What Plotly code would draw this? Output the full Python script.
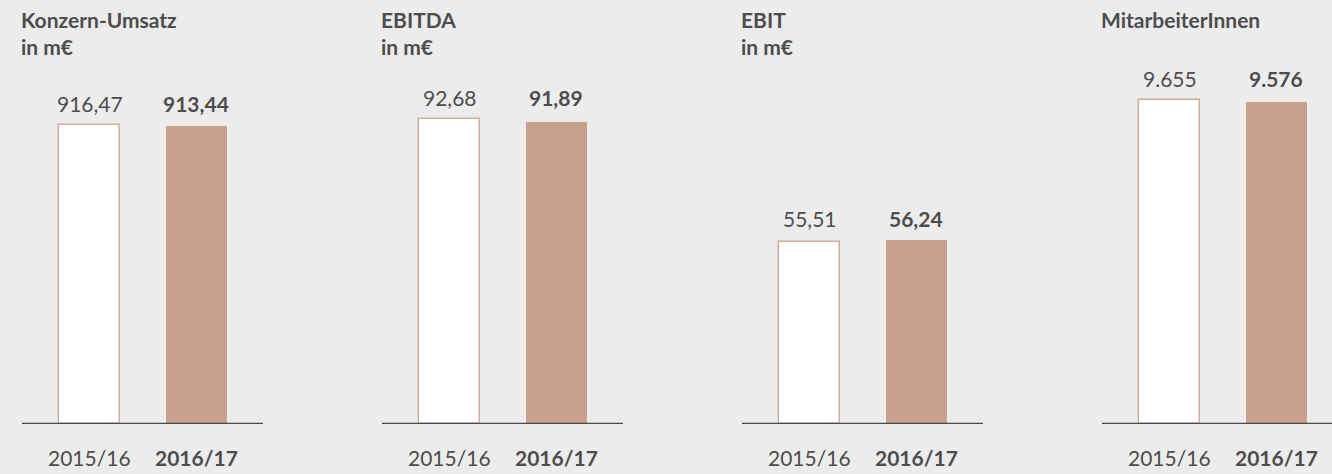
import plotly.graph_objects as go

# ---- data ----
titles = ["Konzern-Umsatz", "EBITDA", "EBIT", "MitarbeiterInnen"]
subtitles = ["in m€", "in m€", "in m€", ""]
years = ["2015/16", "2016/17"]
values_2015 = [916.47, 92.68, 55.51, 9655]
values_2016 = [913.44, 91.89, 56.24, 9576]
decimals = [2, 2, 2, 0]

# ---- style / layout config ----
W, H = 1332, 474
BG = "#ececec"
TXT = "#4d4d4d"
BROWN = "#c8a18e"
OUTLINE = "#d2ad9b"
FONT = "Lato"
FS = 21
y_max = [1299.4, 128.9, 129.4, 12627]
panel_left = [22, 382, 742, 1102]
panel_w = 241
px_per_unit = 106.5
x_left = -0.634


def fmt(v, d):
    if d > 0:
        return f"{v:.{d}f}".replace(".", ",")
    return f"{int(round(v)):,}".replace(",", ".")


fig = go.Figure()
annotations = []
shapes = []
for i in range(4):
    xa = "x" if i == 0 else f"x{i+1}"
    ya = "y" if i == 0 else f"y{i+1}"
    vals = [values_2015[i], values_2016[i]]
    fig.add_trace(go.Bar(
        x=[0, 1], y=vals, width=0.573,
        marker=dict(color=["white", BROWN],
                    line=dict(color=[OUTLINE, BROWN], width=[1.5, 0])),
        xaxis=xa, yaxis=ya, showlegend=False, hoverinfo="skip",
    ))
    d0 = panel_left[i] / W
    right_px = min(panel_left[i] + panel_w, W)
    d1 = right_px / W
    width_px = right_px - panel_left[i]
    xr = [x_left, x_left + width_px / px_per_unit]
    key_x = "xaxis" if i == 0 else f"xaxis{i+1}"
    key_y = "yaxis" if i == 0 else f"yaxis{i+1}"
    fig.layout[key_x] = dict(domain=[d0, d1], range=xr, visible=False,
                             anchor=ya, fixedrange=True)
    fig.layout[key_y] = dict(domain=[0, 1], range=[0, y_max[i]], visible=False,
                             anchor=xa, fixedrange=True)
    # baseline
    shapes.append(dict(type="line", xref=f"{xa} domain", yref=ya,
                       x0=0, x1=1, y0=0, y1=0,
                       line=dict(color="#4a4a4a", width=2.5), layer="above"))
    # title
    t = f"<b>{titles[i]}</b>"
    if subtitles[i]:
        t += f"<br><b>{subtitles[i]}</b>"
    annotations.append(dict(text=t, xref=f"{xa} domain", yref="paper",
                            x=0, y=1, xanchor="left", yanchor="top",
                            yshift=-5, xshift=-3,
                            showarrow=False, align="left",
                            font=dict(family=FONT, size=FS, color=TXT)))
    top = max(vals)
    for j in range(2):
        lbl = fmt(vals[j], decimals[i])
        if j == 1:
            lbl = f"<b>{lbl}</b>"
        annotations.append(dict(text=lbl, xref=xa, yref=ya, x=j, y=top,
                                xanchor="center", yanchor="bottom", yshift=7,
                                showarrow=False,
                                font=dict(family=FONT, size=FS, color=TXT)))
        ylbl = years[j] if j == 0 else f"<b>{years[j]}</b>"
        annotations.append(dict(text=ylbl, xref=xa, yref=ya, x=j, y=0,
                                xanchor="center", yanchor="middle", yshift=-33,
                                showarrow=False,
                                font=dict(family=FONT, size=FS, color=TXT)))

fig.update_layout(width=W, height=H, paper_bgcolor=BG, plot_bgcolor=BG,
                  margin=dict(l=0, r=0, t=0, b=50), annotations=annotations,
                  shapes=shapes, bargap=0)
fig.write_html("out.html", config={"displayModeBar": False},
               post_script="document.body.style.margin='0';"
                           "document.body.style.background='#ececec';")
